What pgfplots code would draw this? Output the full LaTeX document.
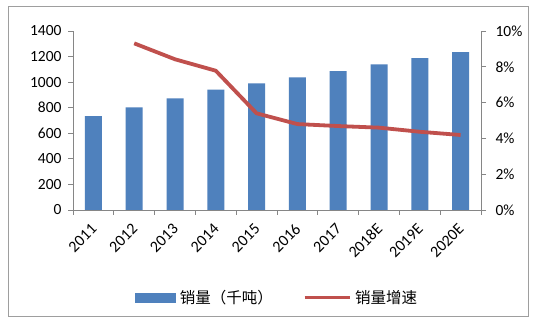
\documentclass[border=0pt]{standalone}
\usepackage{fontspec}
\setmainfont{Carlito}
\newfontfamily\cjk{Noto Sans CJK SC}
\usepackage{pgfplots}
\pgfplotsset{compat=1.18}
\definecolor{barblue}{HTML}{4F81BD}
\definecolor{linered}{HTML}{C0504D}
\definecolor{axgray}{HTML}{868686}
\begin{document}
\begin{tikzpicture}[x=1pt,y=1pt]
\fill[white] (0pt,0pt) rectangle (539pt,324pt);
\useasboundingbox (0pt,0pt) rectangle (539pt,324pt);
\draw[axgray!80, line width=1pt] (8.5pt,7pt) rectangle (528pt,317pt);
\pgfplotsset{
  common/.style={
    at={(73pt,114pt)}, anchor=south west, scale only axis,
    width=408pt, height=179pt, xmin=-0.5, xmax=9.5,
    axis line style={axgray, line width=0.8pt},
    tick style={axgray, line width=0.8pt},
    tick align=outside, major tick length=5pt,
    /pgf/number format/assume math mode=true,
    /pgf/number format/1000 sep={},
    tick label style={font=\fontsize{15.5}{17}\selectfont},
    clip=false,
  }
}
\begin{axis}[common,
  ymin=0, ymax=1400, ytick={0,200,...,1400},
  yticklabel style={xshift=-3pt},
  axis y line*=left, axis x line*=bottom,
  xtick={-0.5,0.5,...,9.5}, xticklabels={},
  extra x ticks={0,1,...,9},
  extra x tick labels={2011,2012,2013,2014,2015,2016,2017,2018E,2019E,2020E},
  extra x tick style={major tick length=0pt, tick label style={font=\fontsize{16}{18}\selectfont, xshift=3pt, yshift=-14pt, rotate=45, anchor=east}},
  legend style={at={(0.50,-0.49)}, anchor=center, draw=none, fill=none,
    legend columns=2, font=\cjk\fontsize{15.5}{18}\selectfont,
    /tikz/every odd column/.append style={column sep=2pt},
    /tikz/every even column/.append style={column sep=28pt}},
]
\addplot[ybar, bar width=17pt, fill=barblue, draw=none,
  legend image code/.code={\fill[barblue] (0pt,-5pt) rectangle (41pt,5pt);}]
  coordinates {(0,735) (1,803) (2,873) (3,941) (4,990) (5,1037) (6,1087) (7,1139) (8,1188) (9,1235)};
\addlegendentry{销量（千吨）}
\addlegendimage{legend image code/.code={\draw[linered, line width=3.5pt] (0pt,0pt) -- (45pt,0pt);}}
\addlegendentry{销量增速}
\end{axis}
\begin{axis}[common,
  ymin=0, ymax=10, ytick={0,2,...,10},
  yticklabel={\pgfmathprintnumber{\tick}\%},
  yticklabel style={xshift=6pt},
  axis y line*=right, axis x line=none,
]
\addplot[linered, line width=3.8pt, line join=round]
  coordinates {(1,9.31) (2,8.42) (3,7.78) (4,5.40) (5,4.80) (6,4.69) (7,4.60) (8,4.37) (9,4.19)};
\end{axis}
\end{tikzpicture}
\end{document}
